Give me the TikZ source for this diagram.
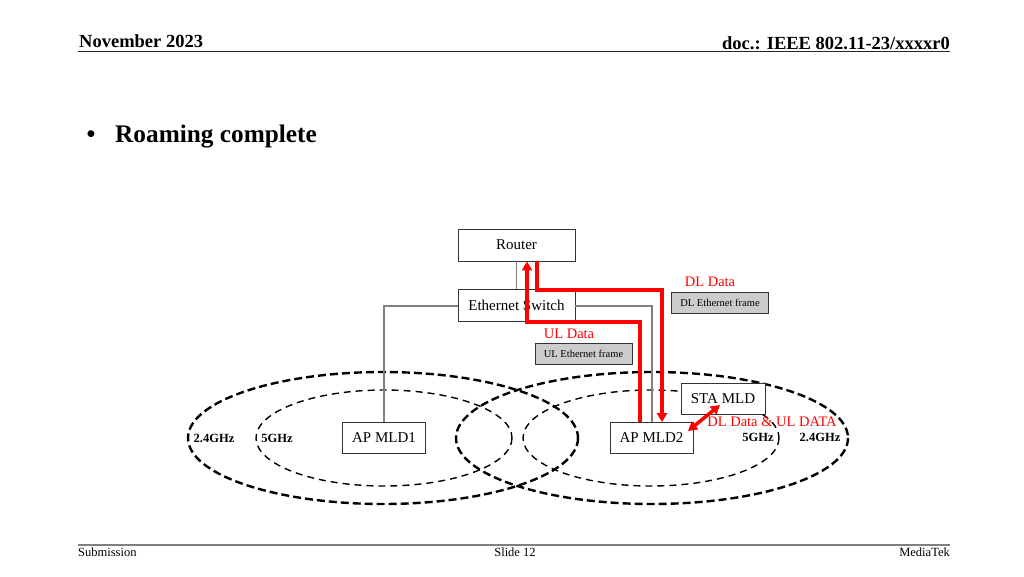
\documentclass[tikz,border=0pt]{standalone}
\usepackage{fontspec}
\setmainfont{Liberation Serif}
\usetikzlibrary{arrows.meta,calc}
\begin{document}
\begin{tikzpicture}[x=1pt,y=-1pt,
  box/.style={draw=black!80,line width=0.8pt,fill=white,inner sep=0pt,font=\fontsize{15}{17}\selectfont},
  framebox/.style={draw=black!80,line width=0.8pt,fill=black!20,inner sep=0pt,minimum width=97pt,minimum height=21pt,font=\fontsize{10.5}{12}\selectfont},
  wire/.style={draw=black!50,line width=1.2pt},
  ra/.style={draw=red,line width=3.5pt,-{Triangle[length=9pt,width=10pt]}},
  rab/.style={draw=red,line width=3.5pt,{Triangle[length=9pt,width=10pt]}-{Triangle[length=9pt,width=10pt]}},
  rlab/.style={text=red,inner sep=0pt,font=\fontsize{14.5}{16}\selectfont},
  band/.style={inner sep=0pt,font=\bfseries\fontsize{12.5}{14}\selectfont},
  outer/.style={line width=2.4pt,dash pattern=on 8pt off 4pt},
  inner/.style={line width=1.4pt,dash pattern=on 7pt off 5pt},
  foot/.style={inner sep=0pt,font=\fontsize{12.5}{14}\selectfont},
  head/.style={inner sep=0pt,font=\bfseries\fontsize{18.5}{21}\selectfont}]
\useasboundingbox[fill=white] (0,0) rectangle (1024,576);
% header and footer
\node[head,anchor=base west] (hdate) at (79,47) {November 2023};
\node[head,anchor=base east] (hdoc) at (950,49) {doc.: IEEE 802.11-23/xxxxr0};
\draw[line width=1.3pt,black!85] (78,51.5) -- (950,51.5);
\draw[line width=1.3pt,black!50] (78,545) -- (950,545);
\node[foot,anchor=base west] (fsub) at (78,556) {Submission};
\node[foot,anchor=base] (fslide) at (515,556) {Slide 12};
\node[foot,anchor=base east] (fmt) at (950,556) {MediaTek};
% title
\node[inner sep=0pt,anchor=base,font=\bfseries\fontsize{25.3}{29}\selectfont] (bul) at (91,142) {\textbullet};
\node[inner sep=0pt,anchor=base west,font=\bfseries\fontsize{25.3}{29}\selectfont] (title) at (115,142) {Roaming complete};
% ellipses
\draw[outer] (383,438) ellipse [x radius=195,y radius=66];
\draw[inner] (384,438) ellipse [x radius=128,y radius=48];
\draw[outer] (652,438) ellipse [x radius=196,y radius=66];
\draw[inner] (651,438) ellipse [x radius=128,y radius=48];
% boxes
\node[box,minimum width=117pt,minimum height=32pt] (router) at (516.5,245) {Router};
\node[box,minimum width=117pt,minimum height=32pt] (esw) at (516.5,305) {Ethernet Switch};
\node[box,minimum width=83pt,minimum height=31pt] (ap1) at (384,438) {AP MLD1};
\node[box,minimum width=83pt,minimum height=31pt] (ap2) at (651.5,438) {AP MLD2};
\node[box,minimum width=84pt,minimum height=31pt] (sta) at (723,398.5) {STA MLD};
% wires
\coordinate (w1) at (384,306);
\coordinate (w2) at (652,306);
\draw[wire] (router.south) -- (esw.north);
\draw[wire] (esw.west |- w1) -- (w1) -- (ap1.north);
\draw[wire] (esw.east |- w2) -- (w2) -- (w2 |- ap2.north);
% labels
\node[rlab] (dll) at (710,282) {DL Data};
\node[framebox] (dlf) at (720,302.5) {DL Ethernet frame};
\node[rlab] (ull) at (569,334) {UL Data};
\node[framebox] (ulf) at (583.5,353.5) {UL Ethernet frame};
% red arrows
\coordinate (u1) at (640,322);
\coordinate (u2) at (527,322);
\draw[ra] (u1 |- ap2.north) -- (u1) -- (u2) -- (u2 |- router.south);
\coordinate (d1) at (537,290);
\coordinate (d2) at (662,290);
\draw[ra] (d1 |- router.south) -- (d1) -- (d2) -- (d2 |- ap2.north);
\coordinate (s1) at (720,405);
\coordinate (s2) at (688,431);
\draw[rab] (s2) -- (s1);
\node[rlab] (dul) at (772,422) {DL Data \& UL DATA};
% band labels
\node[band] (b24l) at (214,438) {2.4GHz};
\node[band] (b5l) at (277,438) {5GHz};
\node[band] (b5r) at (758,437) {5GHz};
\node[band] (b24r) at (820,437) {2.4GHz};
\end{tikzpicture}
\end{document}
